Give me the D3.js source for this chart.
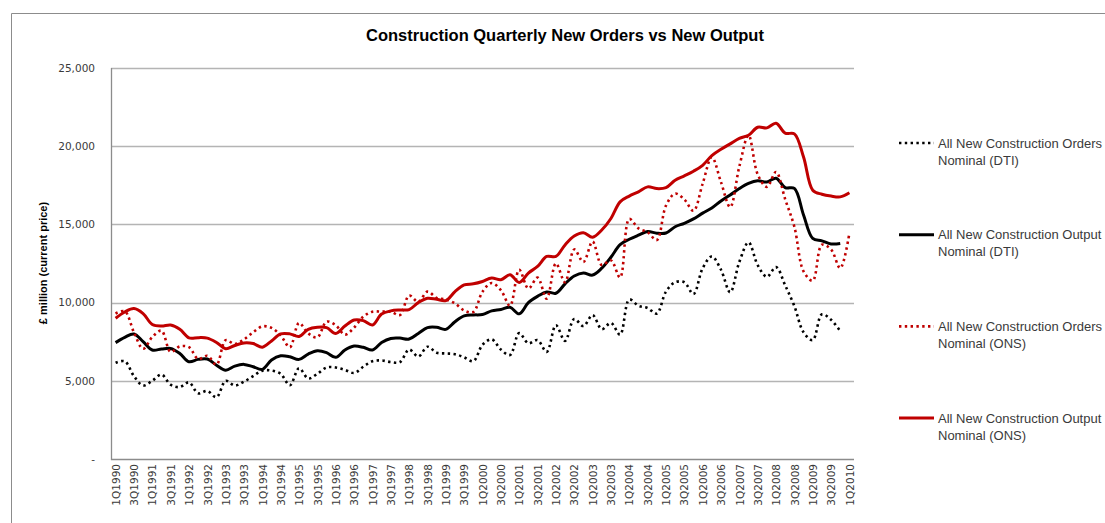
<!DOCTYPE html>
<html>
<head>
<meta charset="utf-8">
<script src="https://cdn.jsdelivr.net/npm/d3@7"></script>
<style>
  body { margin: 0; background: #ffffff; }
</style>
</head>
<body>
<div id="chart"></div>
<script>

/* DATA *********************************************************************************/

// Quarters 1Q1990 .. 1Q2010
var quarters = [];
for (var y = 1990; y <= 2010; y++) {
    for (var q = 1; q <= 4; q++) {
        if (y === 2010 && q > 1) break;
        quarters.push(q + "Q" + y);
    }
}

var yTicks = [0, 5000, 10000, 15000, 20000, 25000];

// All New Construction Orders Nominal (DTI)
var ordersDTI = [
    6150, 6250, 5300, 4700, 5000, 5400, 4750, 4600, 4900, 4200,
    4350, 3950, 5000, 4700, 4950, 5300, 5650, 5650, 5450, 4720,
    5800, 5150, 5450, 5850, 5850, 5700, 5500, 5900, 6250, 6300,
    6200, 6200, 7000, 6550, 7180, 6800, 6750, 6700, 6500, 6250,
    7300, 7650, 7000, 6650, 8050, 7400, 7600, 6850, 8550, 7550,
    8950, 8500, 9200, 8300, 8700, 7950, 10200, 9800, 9650, 9300,
    10700, 11300, 11300, 10550, 12200, 12950, 12100, 10660, 12600, 13850,
    12400, 11650, 12270, 11100, 9770, 8100, 7600, 9250, 8900, 8180, null
];

// All New Construction Output Nominal (DTI)
var outputDTI = [
    7440, 7780, 7990, 7500, 6970, 7030, 7070, 6750, 6220, 6370,
    6390, 6000, 5680, 5940, 6050, 5900, 5730, 6330, 6600, 6540,
    6370, 6710, 6920, 6800, 6500, 6970, 7220, 7140, 6970, 7450,
    7710, 7730, 7670, 8030, 8400, 8420, 8290, 8780, 9150, 9210,
    9240, 9470, 9560, 9700, 9280, 10000, 10400, 10680, 10600, 11200,
    11700, 11900, 11760, 12200, 12900, 13700, 14050, 14310, 14540, 14440,
    14450, 14850, 15070, 15350, 15720, 16050, 16500, 16880, 17290, 17620,
    17790, 17710, 17950, 17350, 17300, 15600, 14100, 13950, 13750, 13780, null
];

// All New Construction Orders Nominal (ONS)
var ordersONS = [
    9300, 9450, 8100, 7050, 7800, 8200, 6850, 7200, 7150, 6400,
    6600, 6030, 7600, 7350, 7650, 8100, 8480, 8380, 7900, 7150,
    8700, 8030, 7780, 8780, 8550, 7950, 8400, 9100, 9420, 9420,
    9420, 9200, 10450, 10050, 10700, 10300, 10200, 9950, 9500, 9400,
    10700, 11250, 10800, 9800, 12100, 10900, 11600, 10250, 12500, 11300,
    13400, 12600, 13900, 12400, 12700, 11600, 15350, 14750, 14500, 14000,
    16200, 16970, 16600, 15870, 17600, 19300, 17700, 16100, 18700, 20700,
    18200, 17400, 18350, 16600, 14850, 12000, 11400, 13700, 13400, 12200,
    14450
];

// All New Construction Output Nominal (ONS)
var outputONS = [
    9000, 9400, 9620, 9300, 8600, 8500, 8570, 8300, 7750, 7760,
    7730, 7450, 7050, 7260, 7420, 7380, 7150, 7550, 8000, 8000,
    7830, 8290, 8420, 8400, 8030, 8500, 8890, 8850, 8570, 9270,
    9470, 9530, 9550, 10000, 10280, 10210, 10130, 10700, 11130, 11200,
    11350, 11570, 11460, 11780, 11290, 11890, 12310, 12950, 12950, 13690,
    14260, 14470, 14180, 14640, 15380, 16440, 16810, 17080, 17400, 17290,
    17350, 17820, 18100, 18400, 18780, 19400, 19800, 20150, 20500, 20700,
    21210, 21170, 21470, 20830, 20790, 19310, 17190, 16930, 16810, 16760,
    17020
];

var seriesNames = [
    ["All New Construction Orders", "Nominal (DTI)"],
    ["All New Construction Output", "Nominal (DTI)"],
    ["All New Construction Orders", "Nominal (ONS)"],
    ["All New Construction Output", "Nominal (ONS)"]
];

var drawChart = function(){

    /* CHART SETTINGS *******************************************************************/

    const width = 1105;
    const height = 523;
    const plot = { left: 111, right: 854, top: 68, bottom: 459 };

    var red = "#c00000";
    var black = "#000000";
    var gridColor = "#b4b4b4";
    var textColor = "#3a3a3a";
    var fontFamily = "'Liberation Sans', Arial, sans-serif";

    var series = [
        { values: ordersDTI, color: black, dotted: true },
        { values: outputDTI, color: black, dotted: false },
        { values: ordersONS, color: red, dotted: true },
        { values: outputONS, color: red, dotted: false }
    ];

    /* SVG ******************************************************************************/

    var svg = d3.select("#chart")
        .append("svg")
        .attr("width", width)
        .attr("height", height)
        .style("font-family", fontFamily);

    // outer chart frame (only left and top edges fall inside the picture)
    svg.append("path")
        .attr("d", "M11.5," + height + "V13.5H" + width)
        .attr("fill", "none")
        .attr("stroke", "#8c8c8c")
        .attr("stroke-width", 1);

    // Title
    svg.append("text")
        .attr("x", 565)
        .attr("y", 41)
        .attr("text-anchor", "middle")
        .attr("font-size", 16.5)
        .attr("font-weight", "bold")
        .attr("fill", "#000")
        .text("Construction Quarterly New Orders vs New Output");

    /* SCALES & AXES ********************************************************************/

    var x = d3.scalePoint()
        .domain(quarters)
        .range([plot.left, plot.right])
        .padding(0.5);

    var yScale = d3.scaleLinear()
        .domain([0, 25000])
        .range([plot.bottom, plot.top]);

    // gridlines
    svg.append("g")
        .selectAll("line")
        .data(yTicks.filter(function(d) { return d > 0; }))
        .enter()
        .append("line")
        .attr("x1", plot.left)
        .attr("x2", plot.right)
        .attr("y1", function(d) { return Math.round(yScale(d)) + 0.5; })
        .attr("y2", function(d) { return Math.round(yScale(d)) + 0.5; })
        .attr("stroke", gridColor)
        .attr("stroke-width", 1.3);

    // y axis
    var yAxis = svg.append("g")
        .attr("transform", "translate(" + plot.left + ",0)")
        .call(d3.axisLeft(yScale)
            .tickValues(yTicks)
            .tickSize(0)
            .tickPadding(16)
            .tickFormat(function(d) { return d === 0 ? "-" : d3.format(",")(d); }));
    yAxis.select(".domain").remove();
    yAxis.selectAll("text")
        .attr("font-family", "'DejaVu Sans', sans-serif")
        .attr("font-size", 10.5)
        .attr("fill", textColor);

    // x axis
    var xAxis = svg.append("g")
        .attr("transform", "translate(0," + plot.bottom + ")")
        .call(d3.axisBottom(x)
            .tickValues(quarters.filter(function(d, i) { return i % 2 === 0; }))
            .tickSize(0));
    xAxis.select(".domain").remove();
    xAxis.selectAll("text")
        .attr("font-family", "'DejaVu Sans', sans-serif")
        .attr("font-size", 10.5)
        .attr("fill", textColor)
        .attr("transform", "rotate(-90)")
        .attr("text-anchor", "end")
        .attr("x", -5)
        .attr("y", 0)
        .attr("dy", "0.35em");

    // left and bottom axis lines
    svg.append("path")
        .attr("d", "M" + (plot.left + 0.5) + "," + plot.top + "V" + (plot.bottom + 0.5) + "H" + plot.right)
        .attr("fill", "none")
        .attr("stroke", "#8c8c8c")
        .attr("stroke-width", 1.3);

    // y axis title
    svg.append("text")
        .attr("transform", "translate(47," + 263 + ") rotate(-90)")
        .attr("text-anchor", "middle")
        .attr("font-size", 11)
        .attr("font-weight", "bold")
        .attr("fill", "#000")
        .text("£ million (current price)");

    /* LINES ****************************************************************************/

    var line = d3.line()
        .defined(function(d) { return d != null; })
        .x(function(d, i) { return x(quarters[i]); })
        .y(function(d) { return yScale(d); })
        .curve(d3.curveCatmullRom.alpha(0.5));

    svg.append("g")
        .selectAll("path")
        .data(series)
        .enter()
        .append("path")
        .attr("d", function(d) { return line(d.values); })
        .attr("fill", "none")
        .attr("stroke", function(d) { return d.color; })
        .attr("stroke-width", function(d) { return d.dotted ? 2.6 : 3; })
        .attr("stroke-dasharray", function(d) { return d.dotted ? "2.4,3.4" : null; })
        .attr("stroke-linejoin", "round");

    /* LEGEND ***************************************************************************/

    var legend = svg.append("g")
        .selectAll("g")
        .data(series)
        .enter()
        .append("g")
        .attr("transform", function(d, i) { return "translate(0," + (143 + i * 91.7) + ")"; });

    legend.append("line")
        .attr("x1", 899)
        .attr("x2", 934)
        .attr("y1", 0)
        .attr("y2", 0)
        .attr("stroke", function(d) { return d.color; })
        .attr("stroke-width", function(d) { return d.dotted ? 2.6 : 3; })
        .attr("stroke-dasharray", function(d) { return d.dotted ? "2.4,3.4" : null; });

    legend.each(function(d, i) {
        var t = d3.select(this).append("text")
            .attr("x", 938)
            .attr("y", 4.5)
            .attr("font-size", 13)
            .attr("fill", textColor);
        t.append("tspan").attr("x", 938).text(seriesNames[i][0]);
        t.append("tspan").attr("x", 938).attr("dy", 17).text(seriesNames[i][1]);
    });
}

window.addEventListener("load", drawChart)
</script>
</body>
</html>
